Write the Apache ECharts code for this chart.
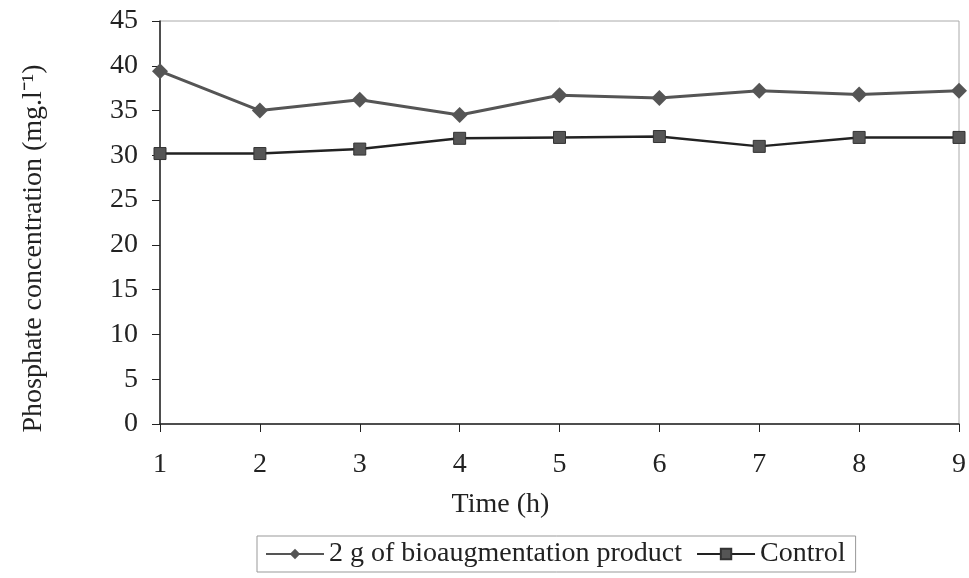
<!DOCTYPE html>
<html><head><meta charset="utf-8">
<script src="https://cdn.jsdelivr.net/npm/echarts@6/dist/echarts.min.js"></script>
<style>html,body{margin:0;padding:0;background:#fff}#c{width:969px;height:578px}</style>
</head><body><div id="c"></div>
<script>
const categories = ['1','2','3','4','5','6','7','8','9'];
const bioValues = [39.4, 35.0, 36.2, 34.5, 36.7, 36.4, 37.2, 36.8, 37.2];
const controlValues = [30.2, 30.2, 30.7, 31.9, 32.0, 32.1, 31.0, 32.0, 32.0];
const seriesNames = ['2 g of bioaugmentation product', 'Control'];

const chart = echarts.init(document.getElementById('c'));
const font = 'Liberation Serif';
chart.setOption({
  backgroundColor: '#fff',
  animation: false,
  grid: {left: 160, right: 9, top: 21, bottom: 154, show: true, borderColor: '#aaa', borderWidth: 1},
  legend: {
    left: 257, top: 536, itemWidth: 58, itemHeight: 13, itemGap: 14,
    padding: [4, 10, 4, 8],
    borderColor: '#999', borderWidth: 1,
    textStyle: {fontFamily: font, fontSize: 28, color: '#222'},
    data: seriesNames
  },
  xAxis: {
    type: 'category', data: categories, boundaryGap: false,
    name: 'Time (h)', nameLocation: 'middle', nameGap: 67,
    nameTextStyle: {fontFamily: font, fontSize: 28, color: '#222', padding: [0, 118, 0, 0]},
    axisLine: {lineStyle: {color: '#222', width: 1.5}},
    axisTick: {length: 8, lineStyle: {color: '#222'}},
    axisLabel: {fontFamily: font, fontSize: 28, color: '#222', margin: 27},
    splitLine: {show: false}
  },
  yAxis: {
    type: 'value', min: 0, max: 45, interval: 5,
    name: 'Phosphate concentration (mg.l\u207B\u00B9)', nameLocation: 'middle', nameGap: 112,
    nameTextStyle: {fontFamily: font, fontSize: 28, color: '#222', padding: [0, 52, 0, 0]},
    axisLine: {show: true, lineStyle: {color: '#222', width: 1.5}},
    axisTick: {show: true, length: 8, lineStyle: {color: '#222'}},
    axisLabel: {fontFamily: font, fontSize: 28, color: '#222', margin: 22},
    splitLine: {show: false}
  },
  series: [
    {name: seriesNames[0], type: 'line', data: bioValues, symbol: 'diamond', symbolSize: 16,
     lineStyle: {color: '#555', width: 3}, itemStyle: {color: '#555'}},
    {name: seriesNames[1], type: 'line', data: controlValues, symbol: 'rect', symbolSize: 12,
     lineStyle: {color: '#222', width: 2.5}, itemStyle: {color: '#555', borderColor: '#333', borderWidth: 1}}
  ]
});
</script></body></html>
